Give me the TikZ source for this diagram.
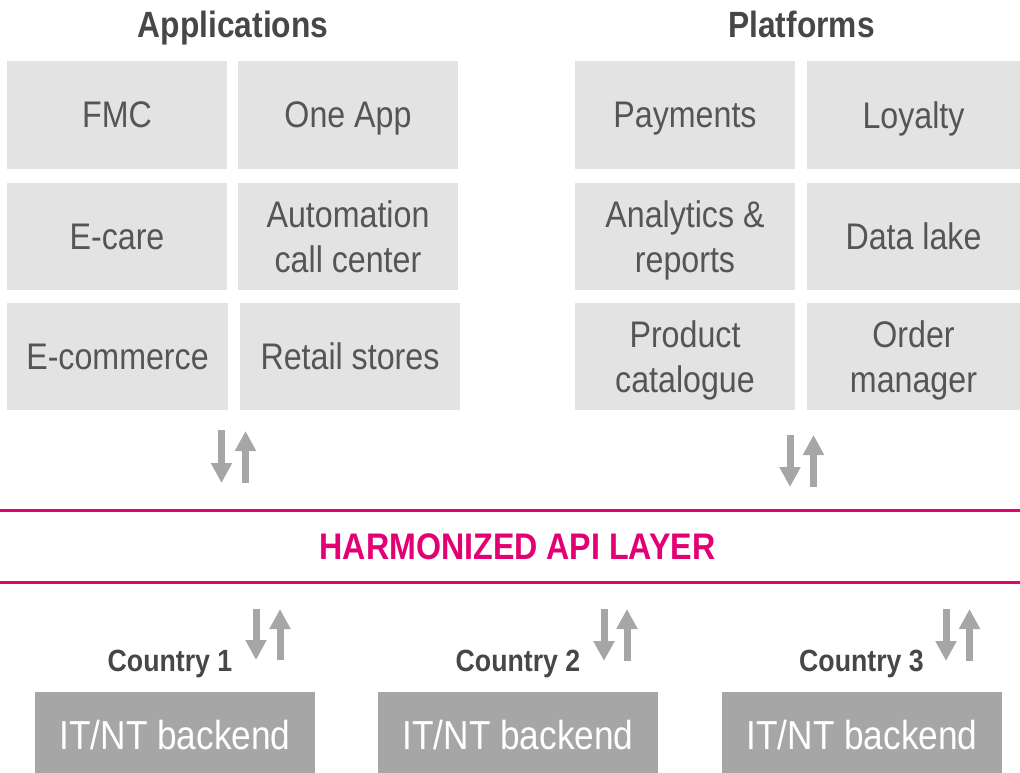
\documentclass[tikz,border=0pt]{standalone}
\usepackage{fontspec}
\setmainfont{Liberation Sans}[FakeStretch=0.87]
\usepackage{tikz}
\usetikzlibrary{arrows.meta,positioning}
\definecolor{boxgray}{HTML}{E3E3E3}
\definecolor{backgray}{HTML}{A6A6A6}
\definecolor{arrowgray}{HTML}{A6A6A6}
\definecolor{textgray}{HTML}{555555}
\definecolor{titlegray}{HTML}{474747}
\definecolor{magenta}{HTML}{E20074}
\tikzset{
  tilebox/.style={fill=boxgray, inner sep=0pt, minimum width=220pt, minimum height=107pt,
    align=center, text depth=0pt, text=textgray, font=\fontsize{37}{45}\selectfont},
  backbox/.style={fill=backgray, inner sep=0pt, minimum width=280pt, minimum height=81pt,
    text height=33.6pt, text depth=0pt, text=white, font=\fontsize{40.5}{44}\selectfont},
  coltitle/.style={anchor=base, text=titlegray, font=\fontsize{36.5}{40}\selectfont\bfseries},
  ctitle/.style={anchor=base, text=titlegray, font=\fontsize{30.7}{34}\selectfont\bfseries},
  flow/.style={draw=arrowgray, line width=7pt, -{Triangle[width=20pt,length=20pt]}},
  apiline/.style={draw=magenta, line width=3pt}
}
\begin{document}
\begin{tikzpicture}[x=1pt,y=-1pt]
\useasboundingbox (0,0) rectangle (1020,773);
% column titles
\node[coltitle] (apps) at (233,38) {Applications};
\node[coltitle] (plat) at (801.5,38) {Platforms};
% applications
\node[tilebox] (fmc) at (117,115) {FMC};
\node[tilebox] (oneapp) at (348,115) {One App};
\node[tilebox] (ecare) at (117,236.5) {E-care};
\node[tilebox] (callc) at (348,236.5) {Automation\\call center};
\node[tilebox, minimum width=221pt] (ecom) at (117.5,356.5) {E-commerce};
\node[tilebox] (retail) at (350,356.5) {Retail stores};
% platforms
\node[tilebox] (pay) at (685,115) {Payments};
\node[tilebox, minimum width=213pt] (loyal) at (913.5,115) {Loyalty};
\node[tilebox] (anal) at (685,236.5) {Analytics \&\\reports};
\node[tilebox, minimum width=213pt] (lake) at (913.5,236.5) {Data lake};
\node[tilebox] (cata) at (685,356.5) {Product\\catalogue};
\node[tilebox, minimum width=213pt] (order) at (913.5,356.5) {Order\\manager};
% api layer
\coordinate (l1) at (0,510);
\coordinate (r1) at (1020,510);
\coordinate (l2) at (0,582);
\coordinate (r2) at (1020,582);
\draw[apiline] (l1) -- (r1);
\draw[apiline] (l2) -- (r2);
\node[anchor=base, text=magenta, font=\fontsize{37}{40}\selectfont\bfseries] (api) at (517.5,559) {HARMONIZED API LAYER};
% countries
\node[ctitle] (c1) at (170,671.5) {Country 1};
\node[ctitle] (c2) at (518,671.5) {Country 2};
\node[ctitle] (c3) at (861.5,671.5) {Country 3};
\node[backbox] (b1) at (175,732.5) {IT/NT backend};
\node[backbox] (b2) at (518,732.5) {IT/NT backend};
\node[backbox] (b3) at (862,732.5) {IT/NT backend};
% arrows
\coordinate (a1t) at (221.5,430); \coordinate (a1b) at (221.5,483);
\coordinate (a2t) at (245.5,431); \coordinate (a2b) at (245.5,483);
\coordinate (p1t) at (790,435); \coordinate (p1b) at (790,487);
\coordinate (p2t) at (813.5,435); \coordinate (p2b) at (813.5,487);
\coordinate (k1t) at (256,609); \coordinate (k1b) at (256,660);
\coordinate (k2t) at (280,609); \coordinate (k2b) at (280,660);
\coordinate (m1t) at (604,609); \coordinate (m1b) at (604,661);
\coordinate (m2t) at (627,609); \coordinate (m2b) at (627,661);
\coordinate (n1t) at (946,609); \coordinate (n1b) at (946,661);
\coordinate (n2t) at (969.5,609); \coordinate (n2b) at (969.5,661);
\draw[flow] (a1t) -- (a1b);
\draw[flow] (a2b) -- (a2t);
\draw[flow] (p1t) -- (p1b);
\draw[flow] (p2b) -- (p2t);
\draw[flow] (k1t) -- (k1b);
\draw[flow] (k2b) -- (k2t);
\draw[flow] (m1t) -- (m1b);
\draw[flow] (m2b) -- (m2t);
\draw[flow] (n1t) -- (n1b);
\draw[flow] (n2b) -- (n2t);
\end{tikzpicture}
\end{document}
